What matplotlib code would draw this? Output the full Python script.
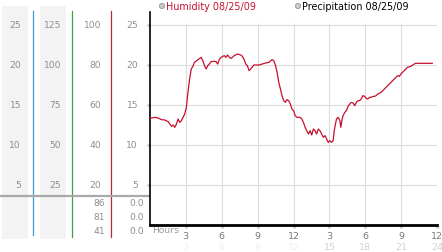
import matplotlib
matplotlib.use("Agg")
import matplotlib.pyplot as plt
from matplotlib import transforms
from matplotlib.patches import Rectangle, Circle

# ---------------- data ----------------
hours = [0.00, 0.44, 0.71, 0.99, 1.26, 1.54, 1.68, 1.82, 1.95, 2.09,
         2.23, 2.37, 2.50, 2.64, 2.78, 2.92, 3.06, 3.19, 3.33, 3.47,
         3.60, 3.74, 4.02, 4.30, 4.43, 4.57, 4.71, 4.84, 4.98, 5.12,
         5.40, 5.54, 5.67, 5.81, 5.95, 6.22, 6.36, 6.50, 6.64, 6.78,
         6.91, 7.05, 7.32, 7.60, 7.74, 7.88, 8.02, 8.15, 8.29, 8.43,
         8.70, 9.12, 9.39, 9.67, 9.94, 10.21, 10.35, 10.49, 10.63, 10.77,
         10.91, 11.04, 11.18, 11.32, 11.45,
         11.60, 11.74, 11.87, 12.01, 12.14, 12.28, 12.56, 12.69, 12.83, 12.97,
         13.10, 13.25, 13.39, 13.52, 13.66, 13.80, 13.93, 14.07, 14.21, 14.35,
         14.49, 14.63, 14.76, 14.90, 15.04, 15.17, 15.31, 15.40, 15.50, 15.59,
         15.73, 15.87, 15.95, 16.06, 16.14, 16.28, 16.41, 16.55, 16.69, 16.83,
         16.97, 17.11, 17.24, 17.38, 17.52, 17.65, 17.79, 17.93, 18.07, 18.21,
         18.35, 18.48, 18.62, 18.76, 18.89, 19.03, 19.31, 19.59, 19.86, 20.13,
         20.41, 20.69, 20.83, 20.96, 21.24, 21.51, 21.79, 22.07, 22.20, 23.58]

humidity = [13.33, 13.46, 13.37, 13.17, 13.12, 12.92, 12.62, 12.33, 12.50, 12.20,
            12.62, 13.25, 12.83, 13.04, 13.46, 13.87, 14.70, 16.58, 18.25, 19.50,
            19.83, 20.33, 20.67, 20.96, 20.54, 19.92, 19.50, 19.92, 20.12, 20.42,
            20.46, 20.42, 20.12, 20.67, 20.96, 21.17, 20.96, 21.25, 20.96, 20.83,
            20.96, 21.17, 21.37, 21.25, 21.08, 20.67, 20.12, 19.92, 19.29, 19.50,
            20.00, 20.00, 20.12, 20.25, 20.33, 20.67, 20.54, 20.00, 19.08, 17.83,
            17.00, 16.17, 15.54, 15.33, 15.67,
            15.54, 15.12, 14.50, 14.29, 13.67, 13.46, 13.46, 13.25, 12.83, 12.21,
            11.79, 11.37, 11.79, 11.25, 12.00, 11.79, 11.37, 12.00, 11.79, 11.37,
            10.96, 11.17, 10.75, 10.33, 10.54, 10.33, 10.54, 11.79, 12.62, 13.25,
            13.46, 13.04, 12.21, 13.25, 13.67, 14.08, 14.29, 14.83, 15.12, 15.33,
            15.25, 14.92, 15.33, 15.54, 15.54, 15.75, 16.17, 16.08, 15.83, 15.75,
            15.96, 15.96, 16.08, 16.08, 16.17, 16.37, 16.58, 17.00, 17.42, 17.83,
            18.25, 18.67, 18.58, 18.87, 19.29, 19.71, 19.83, 20.12, 20.21, 20.21]

y_ticks = [5, 10, 15, 20, 25]
scale_a = ["5", "10", "15", "20", "25"]
scale_b = ["25", "50", "75", "100", "125"]
scale_c = ["20", "40", "60", "80", "100"]
scale_d = ["5", "10", "15", "20", "25"]
x_ticks = [3, 6, 9, 12, 15, 18, 21, 24]
x_labels = ["3", "6", "9", "12", "3", "6", "9", "12"]
x_labels2 = ["3", "6", "9", "12", "15", "18", "21", "24"]
extra_c = ["86", "81", "41"]
extra_d = ["0.0", "0.0", "0.0"]
legend_labels = ["Humidity 08/25/09", "Precipitation 08/25/09"]

# ---------------- layout ----------------
W, H = 442, 253
fig = plt.figure(figsize=(W / 100, H / 100), dpi=100)
fig.patch.set_facecolor("white")

bg = fig.add_axes([0, 0, 1, 1], zorder=0)
bg.set_xlim(0, W)
bg.set_ylim(H, 0)
bg.axis("off")

x0, x1 = 149.7, 437.3
ybot, ytop = 226.0, 13.0
ymax = (ybot - ytop) / 8.0
ax = fig.add_axes([x0 / W, 1 - ybot / H, (x1 - x0) / W, (ybot - ytop) / H], zorder=2)
ax.patch.set_alpha(0)
ax.set_xlim(0, 24)
ax.set_ylim(0, ymax)

TXT = "#8e8e8e"
FS = 6.6
XFS = 6.8

# gray background bands
for xa, xb in [(2, 28), (40, 66)]:
    bg.add_patch(Rectangle((xa, 7), xb - xa, 233, facecolor="#f3f3f3", edgecolor="none"))
# colored scale lines
bg.plot([33, 33], [12, 236], color="#3a9fd0", lw=0.9)
bg.plot([72, 72], [12, 238], color="#3aa63a", lw=0.9)
bg.plot([111, 111], [12, 238], color="#c0283a", lw=0.9)
# gray separator
bg.plot([0, x0], [197, 197], color="#a9a9a9", lw=1.6, solid_capstyle="butt")

# scale labels positioned with the main axis y scale
tr = transforms.blended_transform_factory(bg.transData, ax.transData)
for v, a, b, c, d in zip(y_ticks, scale_a, scale_b, scale_c, scale_d):
    bg.text(21, v, a, transform=tr, ha="right", va="center", fontsize=FS, color=TXT)
    bg.text(61, v, b, transform=tr, ha="right", va="center", fontsize=FS, color=TXT)
    bg.text(101, v, c, transform=tr, ha="right", va="center", fontsize=FS, color=TXT)
    bg.text(138, v, d, transform=tr, ha="right", va="center", fontsize=FS, color=TXT)
for i, (c, d) in enumerate(zip(extra_c, extra_d)):
    yy = 204 + i * 14
    bg.text(105, yy, c, ha="right", va="center", fontsize=FS, color=TXT)
    bg.text(144, yy, d, ha="right", va="center", fontsize=FS, color=TXT)

# grid
for v in y_ticks:
    ax.axhline(v, color="#dcdcdc", lw=0.8, zorder=1)
ax.vlines(x_ticks, 0, 25.3, color="#dcdcdc", lw=0.8, zorder=1)

# line
ax.plot(hours, humidity, color="#c8102e", lw=0.9, zorder=3)

# spines
for s in ["top", "right"]:
    ax.spines[s].set_visible(False)
ax.spines["left"].set_color("black")
ax.spines["left"].set_linewidth(1.2)
ax.spines["bottom"].set_color("black")
ax.spines["bottom"].set_linewidth(2.0)

ax.set_yticks(y_ticks)
ax.set_yticklabels([])
ax.tick_params(axis="y", length=2.5, width=1.8, color="#c4c4c4", direction="out", pad=2)
ax.set_xticks(x_ticks)
ax.set_xticklabels(x_labels, fontsize=XFS, color="#7a7a7a")
ax.tick_params(axis="x", length=2.5, width=1.8, color="#c4c4c4", direction="out", pad=1.5)

# second row of hour labels
trx = transforms.blended_transform_factory(ax.transData, bg.transData)
for i, (x, lab) in enumerate(zip(x_ticks, x_labels2)):
    col = "#f0f0f0" if i < 4 else "#d2d2d2"
    ax.text(x, 248, lab, transform=trx, ha="center", va="center", fontsize=XFS, color=col)

bg.text(152, 230.5, "Hours", ha="left", va="center", fontsize=FS, color="#9a9a9a")

# legend
for cx, lab, col in [(162, legend_labels[0], "#c8102e"), (298, legend_labels[1], "black")]:
    bg.add_patch(Circle((cx, 7), 2.6, facecolor="#c8c8c8", edgecolor="#999999", lw=0.6))
    bg.text(cx + 4.5, 7.2, lab, ha="left", va="center", fontsize=FS + 0.3, color=col)

fig.savefig("out.png", dpi=100, facecolor="white")
